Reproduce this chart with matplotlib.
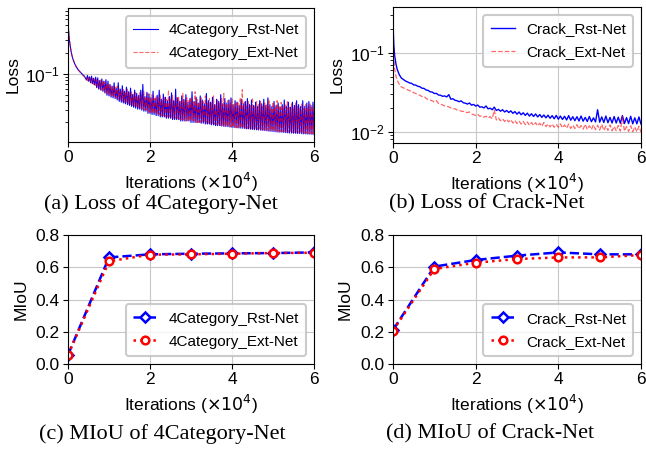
import numpy as np
import matplotlib
matplotlib.use("Agg")
import matplotlib.pyplot as plt

plt.rcParams['font.family'] = ['Liberation Sans', 'DejaVu Sans']

# ---- (a) loss, 4Category (iterations in 1e4) ----
iter_a_early = [0, 0.005, 0.01, 0.02, 0.03, 0.045, 0.06, 0.08, 0.1, 0.13, 0.16, 0.2, 0.25, 0.3, 0.35, 0.4]
iter_a_band = np.round(np.arange(0.45, 6.0001, 0.025), 3)
loss_4cat_rst = [
    0.60, 0.50, 0.44, 0.37, 0.32, 0.27, 0.235, 0.20, 0.178, 0.155, 0.140, 0.125, 0.113, 0.105, 0.098, 0.092,
    .081, .094, .078, .090, .074, .092, .072, .086, .069, .089,
    .063, .087, .060, .080, .058, .084, .056, .078, .053, .082,
    .049, .078, .048, .070, .046, .066, .045, .074, .044, .062,
    .042, .074, .040, .060, .039, .067, .038, .056, .037, .064,
    .036, .055, .035, .062, .034, .050, .033, .058, .032, .052,
    .031, .049, .031, .058, .030, .070, .029, .047, .029, .054,
    .027, .051, .027, .045, .026, .056, .026, .044, .025, .049,
    .025, .058, .024, .043, .024, .051, .024, .046, .023, .041,
    .023, .047, .023, .053, .022, .041, .022, .060, .022, .045,
    .022, .040, .021, .048, .021, .043, .021, .050, .021, .039,
    .021, .044, .020, .055, .020, .040, .020, .046, .020, .038,
    .020, .048, .0195, .042, .0195, .037, .019, .052, .019, .041,
    .019, .039, .0185, .046, .0185, .036, .018, .043, .018, .040,
    .018, .050, .0178, .037, .0176, .044, .0175, .038, .0174, .042,
    .0172, .045, .017, .036, .017, .041, .0168, .039, .0167, .035,
    .0166, .043, .0165, .037, .0164, .040, .0162, .044, .0162, .036,
    .016, .042, .0159, .035, .0158, .039, .0157, .034, .0156, .041,
    .0155, .037, .0154, .043, .0153, .035, .0152, .045, .015, .036,
    .0149, .034, .0148, .040, .0147, .035, .0146, .038, .0145, .033,
    .0145, .036, .0144, .042, .0143, .034, .0142, .039, .0141, .033,
    .0141, .039, .014, .035, .014, .041, .0139, .036, .0139, .034,
    .0138, .041, .0137, .034, .0137, .038, .0136, .040, .0136, .035,
    .0135, .039, .0135,
]
loss_4cat_ext = [
    0.62, 0.52, 0.45, 0.38, 0.33, 0.28, 0.24, 0.205, 0.18, 0.158, 0.142, 0.127, 0.114, 0.104, 0.096, 0.090,
    .090, .079, .088, .077, .087, .073, .085, .070, .083, .068,
    .082, .064, .080, .061, .081, .058, .079, .056, .076, .053,
    .072, .051, .070, .049, .068, .048, .065, .046, .064, .045,
    .066, .043, .060, .042, .057, .040, .061, .039, .055, .038,
    .060, .037, .053, .036, .056, .035, .050, .034, .054, .033,
    .048, .032, .053, .032, .046, .031, .055, .030, .045, .030,
    .052, .028, .046, .028, .050, .027, .044, .027, .048, .026,
    .044, .026, .050, .025, .042, .025, .047, .024, .043, .024,
    .058, .024, .043, .023, .049, .023, .040, .023, .047, .022,
    .046, .022, .040, .022, .052, .022, .041, .021, .045, .021,
    .041, .021, .046, .021, .039, .021, .055, .020, .043, .020,
    .039, .020, .045, .020, .040, .020, .048, .0195, .038, .0192,
    .044, .019, .038, .019, .048, .0188, .037, .0185, .042, .0183,
    .038, .0181, .044, .018, .052, .0178, .036, .0177, .041, .0175,
    .037, .0174, .043, .0172, .036, .017, .040, .017, .038, .0169,
    .045, .0168, .059, .0167, .039, .0166, .035, .0165, .041, .0163,
    .035, .0162, .045, .0161, .034, .016, .040, .0159, .036, .0158,
    .040, .0157, .034, .0156, .038, .0155, .036, .0154, .043, .0153,
    .033, .0152, .039, .0151, .034, .015, .041, .0149, .035, .0148,
    .039, .0147, .034, .0147, .037, .0146, .041, .0145, .033, .0145,
    .037, .0144, .033, .0143, .038, .0143, .035, .0142, .032, .0141,
    .038, .0141, .032, .014, .036, .014, .033, .0139, .037, .0139,
    .034, .0138, .036,
]

# ---- (b) loss, Crack ----
iter_b_early = [0, 0.01, 0.02, 0.04, 0.07, 0.1, 0.15, 0.2, 0.3]
iter_b_rest = np.round(np.arange(0.4, 6.0001, 0.05), 2)
loss_crack_rst = [
    0.26, 0.17, 0.125, 0.092, 0.073, 0.062, 0.053, 0.048, 0.044,
    .0415, .0410, .0392, .0390, .0376, .0372, .0356, .0354, .0338, .0334,
    .0320, .0318, .0305, .0306, .0292, .0290, .0281, .0284, .0276, .0295,
    .0258, .0262, .0250, .0247, .0240, .0246, .0233, .0230, .0224, .0231,
    .0217, .0222, .0211, .0218, .0205, .0207, .0200, .0212, .0195, .0199,
    .0190, .0205, .0186, .0192, .0182, .0190, .0178, .0186, .0175, .0184,
    .0171, .0180, .0167, .0178, .0164, .0174, .0161, .0172, .0158, .0169,
    .0156, .0168, .0154, .0165, .0152, .0163, .0150, .0162, .0148, .0160,
    .0146, .0161, .0144, .0158, .0143, .0157, .0141, .0160, .0140, .0155,
    .0138, .0155, .0137, .0158, .0136, .0152, .0135, .0156, .0134, .0150,
    .0133, .0190, .0132, .0154, .0131, .0158, .0130, .0152, .0129, .0156,
    .0129, .0153, .0128, .0160, .0127, .0151, .0127, .0157, .0126, .0150,
    .0126, .0154, .0125,
]
loss_crack_ext = [
    0.25, 0.12, 0.085, 0.063, 0.051, 0.045, 0.040, 0.037, 0.035,
    .0331, .0325, .0312, .0305, .0296, .0290, .0279, .0282, .0264, .0256,
    .0251, .0246, .0239, .0248, .0228, .0224, .0218, .0212, .0210, .0207,
    .0200, .0196, .0195, .0189, .0187, .0182, .0181, .0176, .0175, .0178,
    .0168, .0164, .0161, .0166, .0157, .0160, .0153, .0157, .0149, .0155,
    .0146, .0188, .0141, .0149, .0138, .0146, .0135, .0144, .0133, .0142,
    .0129, .0139, .0127, .0136, .0125, .0135, .0123, .0133, .0121, .0131,
    .0120, .0130, .0119, .0128, .0117, .0131, .0116, .0126, .0115, .0125,
    .0114, .0124, .0114, .0126, .0112, .0122, .0111, .0125, .0110, .0121,
    .0110, .0123, .0109, .0120, .0108, .0124, .0107, .0119, .0107, .0122,
    .0106, .0121, .0105, .0124, .0104, .0118, .0104, .0122, .0103, .0117,
    .0103, .0120, .0102, .0155, .0102, .0116, .0101, .0119, .0100, .0115,
    .0100, .0117, .0099,
]

# ---- (c), (d) MIoU ----
eval_iters = [0, 1, 2, 3, 4, 5, 6]
miou_4cat_rst = [0.056, 0.661, 0.680, 0.684, 0.686, 0.688, 0.692]
miou_4cat_ext = [0.056, 0.637, 0.678, 0.680, 0.684, 0.688, 0.690]
miou_crack_rst = [0.211, 0.604, 0.645, 0.672, 0.692, 0.680, 0.680]
miou_crack_ext = [0.207, 0.589, 0.628, 0.651, 0.661, 0.661, 0.676]

W, H = 646, 450
fig = plt.figure(figsize=(W / 100, H / 100), dpi=100)


def add_ax(l, t, r, b):
    return fig.add_axes([l / W, 1 - b / H, (r - l) / W, (b - t) / H])


xlab = r'Iterations ($\times 10^4$)'


def style(ax, ylab, ypad):
    ax.set_xlim(0, 6)
    ax.set_xticks([0, 2, 4, 6])
    ax.grid(True, color='#c8c8c8', lw=0.8)
    ax.set_axisbelow(True)
    ax.set_xlabel(xlab, fontsize=12.5, labelpad=4)
    ax.set_ylabel(ylab, fontsize=12.5, labelpad=ypad)
    ax.tick_params(labelsize=12.5, pad=2.5)


def legend(ax, loc):
    leg = ax.legend(loc=loc, fontsize=11, framealpha=0.8, edgecolor='0.75',
                    handlelength=1.6, handletextpad=0.7, labelspacing=0.6, borderpad=0.5)
    leg.get_frame().set_linewidth(1.5)


# (a)
ax = add_ax(68, 8, 314, 142)
xa = np.concatenate([iter_a_early, iter_a_band])
ax.plot(xa, loss_4cat_rst, 'b-', lw=0.8, label='4Category_Rst-Net')
ax.plot(xa, loss_4cat_ext, 'r--', lw=0.8, alpha=0.6, label='4Category_Ext-Net')
ax.set_yscale('log')
ax.set_ylim(0.0105, 0.87)
style(ax, 'Loss', 3)
legend(ax, 'upper right')

# (b)
ax = add_ax(393, 7, 641, 143)
xb = np.concatenate([iter_b_early, iter_b_rest])
ax.plot(xb, loss_crack_rst, 'b-', lw=1.0, label='Crack_Rst-Net')
ax.plot(xb, loss_crack_ext, 'r--', lw=0.9, alpha=0.6, label='Crack_Ext-Net')
ax.set_yscale('log')
ax.set_ylim(0.0072, 0.38)
style(ax, 'Loss', 4)
legend(ax, 'upper right')

# (c)
ax = add_ax(68, 235, 314, 364)
ax.plot(eval_iters, miou_4cat_rst, 'b--', marker='D', ms=5, mfc='white', mew=1.8, lw=1.8,
        label='4Category_Rst-Net')
ax.plot(eval_iters, miou_4cat_ext, 'r:', marker='o', ms=5.5, mfc='white', mew=1.8, lw=1.8,
        label='4Category_Ext-Net')
ax.set_ylim(0, 0.8)
ax.set_yticks([0, 0.2, 0.4, 0.6, 0.8])
style(ax, 'MIoU', 5)
legend(ax, 'lower right')

# (d)
ax = add_ax(393, 235, 641, 364)
ax.plot(eval_iters, miou_crack_rst, 'b--', marker='D', ms=5, mfc='white', mew=1.8, lw=1.8,
        label='Crack_Rst-Net')
ax.plot(eval_iters, miou_crack_ext, 'r:', marker='o', ms=5.5, mfc='white', mew=1.8, lw=1.8,
        label='Crack_Ext-Net')
ax.set_ylim(0, 0.8)
ax.set_yticks([0, 0.2, 0.4, 0.6, 0.8])
style(ax, 'MIoU', 6)
legend(ax, 'lower right')

# captions
cap = dict(family='Liberation Serif', fontsize=16, ha='center', va='center')
fig.text(161 / W, 1 - 204 / H, '(a) Loss of 4Category-Net', **cap)
fig.text(487 / W, 1 - 204 / H, '(b) Loss of Crack-Net', **cap)
fig.text(162 / W, 1 - 434 / H, '(c) MIoU of 4Category-Net', **cap)
fig.text(490 / W, 1 - 434 / H, '(d) MIoU of Crack-Net', **cap)

fig.savefig('out.png', dpi=100)
